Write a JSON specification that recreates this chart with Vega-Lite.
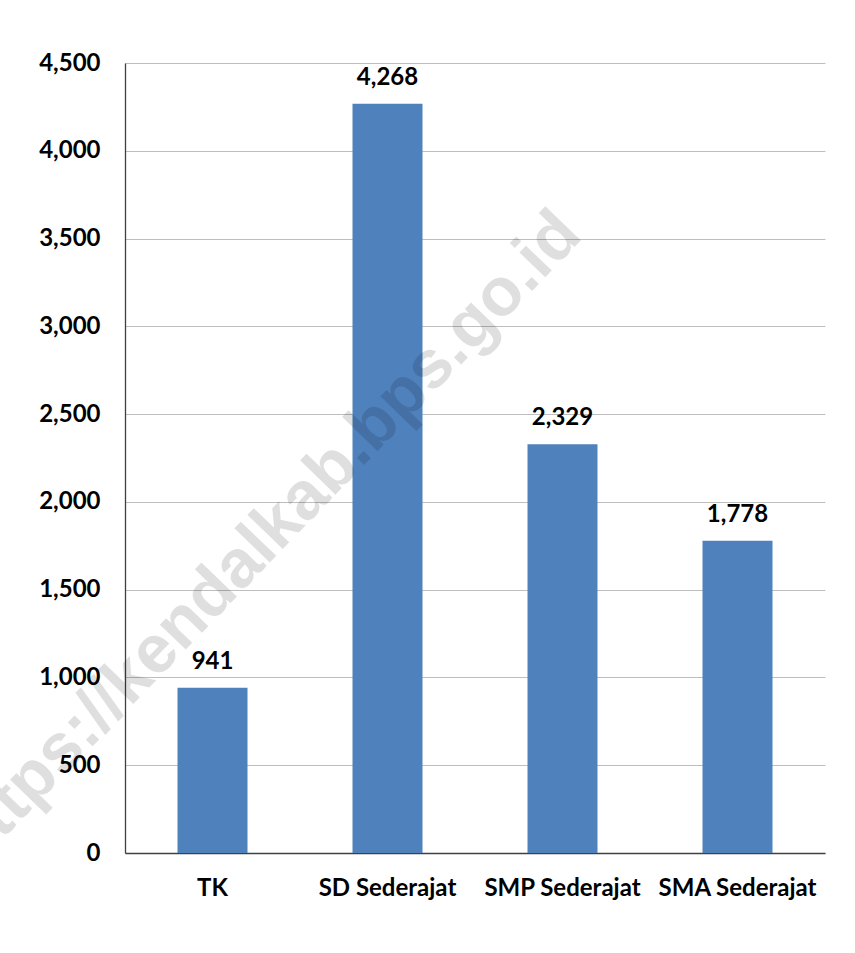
{
  "$schema": "https://vega.github.io/schema/vega-lite/v6.json",
  "autosize": {"type": "none"},
  "padding": {"left": 125, "top": 63, "right": 30, "bottom": 100},
  "width": 700,
  "height": 790,
  "background": "white",
  "config": {
    "view": {"stroke": null},
    "font": "Lato"
  },
  "datasets": {
    "bars": [
      {"jenjang": "TK", "jumlah": 941},
      {"jenjang": "SD Sederajat", "jumlah": 4268},
      {"jenjang": "SMP Sederajat", "jumlah": 2329},
      {"jenjang": "SMA Sederajat", "jumlah": 1778}
    ],
    "wm": [
      {"jenjang": "TK", "jumlah": 1480, "teks": "https://kendalkab.bps.go.id"}
    ]
  },
  "layer": [
    {
      "data": {"name": "bars"},
      "mark": {"type": "bar", "color": "#4F81BD"},
      "encoding": {
        "x": {
          "field": "jenjang", "type": "nominal", "sort": null,
          "scale": {"paddingInner": 0.6, "paddingOuter": 0.3},
          "axis": {
            "title": null, "labelAngle": 0, "ticks": false,
            "domainColor": "#404040", "domainWidth": 1.3,
            "labelFont": "Lato", "labelFontWeight": "bold", "labelFontSize": 24,
            "labelColor": "#000000", "labelPadding": 23
          }
        },
        "y": {
          "field": "jumlah", "type": "quantitative",
          "scale": {"domain": [0, 4500], "nice": false},
          "axis": {
            "title": null, "values": [0, 500, 1000, 1500, 2000, 2500, 3000, 3500, 4000, 4500],
            "format": ",d", "ticks": false,
            "domainColor": "#404040", "domainWidth": 1.3,
            "grid": true, "gridColor": "#BEBEBE", "gridWidth": 1,
            "labelFont": "Lato", "labelFontWeight": "bold", "labelFontSize": 24,
            "labelColor": "#000000", "labelPadding": 25
          }
        }
      }
    },
    {
      "data": {"name": "bars"},
      "mark": {"type": "text", "font": "Lato", "fontWeight": "bold", "fontSize": 24, "color": "#000000", "baseline": "alphabetic", "dy": -19},
      "encoding": {
        "x": {"field": "jenjang", "type": "nominal", "sort": null},
        "y": {"field": "jumlah", "type": "quantitative"},
        "text": {"field": "jumlah", "type": "quantitative", "format": ",d"}
      }
    },
    {
      "data": {"name": "wm"},
      "mark": {"type": "text", "font": "Liberation Sans", "fontWeight": "bold", "fontSize": 68, "color": "#000000", "opacity": 0.12, "angle": 314, "align": "center", "baseline": "middle", "dx": 74},
      "encoding": {
        "x": {"field": "jenjang", "type": "nominal", "sort": null},
        "y": {"field": "jumlah", "type": "quantitative"},
        "text": {"field": "teks", "type": "nominal"}
      }
    }
  ]
}
